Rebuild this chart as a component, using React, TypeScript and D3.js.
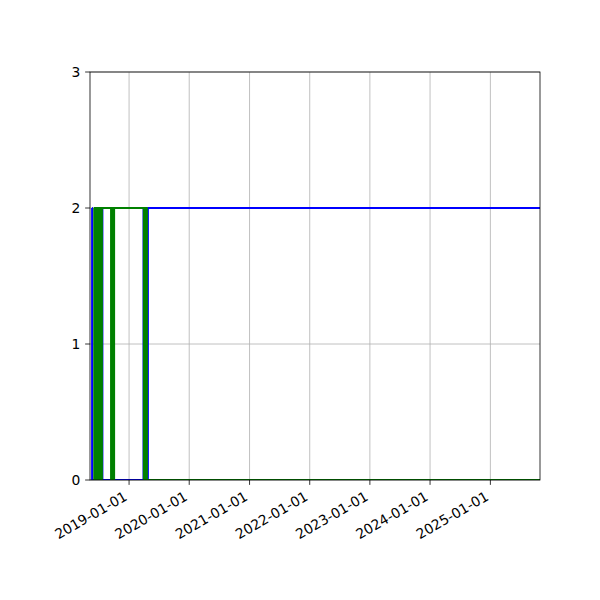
import React from "react";
import * as d3 from "d3";

// Axis tick labels
const yTicks = [0, 1, 2, 3];
const xTickLabels = [
  "2019-01-01",
  "2020-01-01",
  "2021-01-01",
  "2022-01-01",
  "2023-01-01",
  "2024-01-01",
  "2025-01-01",
];
const xDomain = ["2018-05-09", "2025-10-29"];

// Blue series (state values over time, step-post)
const blueDates = [
  "2018-05-21", "2018-05-22", "2018-06-10", "2018-06-11", "2018-07-22", "2018-07-23",
  "2018-09-26", "2018-09-27", "2019-03-30", "2019-03-31", "2019-04-25", "2025-10-29",
];
const blueValues = [2, 0, 2, 0, 2, 0, 2, 0, 2, 0, 2, 2];

// Green series (state values over time, step-post)
const greenDates = [
  "2018-06-01", "2018-06-04", "2018-06-07", "2018-06-13", "2018-06-16", "2018-06-19",
  "2018-06-22", "2018-06-25", "2018-06-28", "2018-07-01", "2018-07-04", "2018-07-07",
  "2018-07-10", "2018-07-13", "2018-07-16", "2018-07-19", "2018-07-20",
  "2018-09-14", "2018-09-17", "2018-09-20", "2018-09-23", "2018-09-29", "2018-10-02",
  "2019-04-01", "2019-04-04", "2019-04-07", "2019-04-10", "2019-04-13", "2019-04-16",
  "2019-04-19", "2025-10-29",
];
const greenValues = [
  2, 0, 2, 0, 2, 0,
  2, 0, 2, 0, 2, 0,
  2, 0, 2, 0, 2,
  0, 2, 0, 2, 0, 2,
  0, 2, 0, 2, 0, 2,
  0, 0,
];

const W = 600;
const H = 600;
const L = 90;
const R = 540;
const T = 72;
const B = 480;
const FONT = "DejaVu Sans, sans-serif";
const FS = 13.89;

export default function App() {
  const parse = (s: string) => new Date(s + "T00:00:00Z");
  const x = d3.scaleUtc().domain(xDomain.map(parse)).range([L, R]);
  const y = d3.scaleLinear().domain([0, 3]).range([B, T]);

  const line = d3
    .line<[Date, number]>()
    .x((d) => x(d[0]))
    .y((d) => y(d[1]))
    .curve(d3.curveStepAfter);

  const blue = line(blueDates.map((d, i) => [parse(d), blueValues[i]])) || "";
  const green = line(greenDates.map((d, i) => [parse(d), greenValues[i]])) || "";

  const xt = xTickLabels.map((s) => ({ s, px: x(parse(s)) }));
  const tick = 4.86;

  return (
    <svg
      width={W}
      height={H}
      style={{ position: "absolute", left: 0, top: 0, background: "#fff" }}
    >
      <defs>
        <clipPath id="plot">
          <rect x={L} y={T} width={R - L} height={B - T} />
        </clipPath>
      </defs>
      <rect x={0} y={0} width={W} height={H} fill="#fff" />
      {/* grid */}
      <g stroke="#b0b0b0" strokeWidth={0.8}>
        {xt.map((t) => (
          <line key={t.s} x1={t.px} x2={t.px} y1={T} y2={B} />
        ))}
        {yTicks.map((v) => (
          <line key={v} x1={L} x2={R} y1={y(v)} y2={y(v)} />
        ))}
      </g>
      {/* series */}
      <g clipPath="url(#plot)" fill="none" strokeWidth={2.08} strokeLinejoin="round">
        <path d={blue} stroke="#0000ff" />
        <path d={green} stroke="#008000" />
      </g>
      {/* spines */}
      <rect x={L} y={T} width={R - L} height={B - T} fill="none" stroke="#000" strokeWidth={0.8} />
      {/* y ticks */}
      <g>
        {yTicks.map((v) => (
          <g key={v}>
            <line x1={L - tick} x2={L} y1={y(v)} y2={y(v)} stroke="#000" strokeWidth={0.8} />
            <text
              x={L - tick - 4.86}
              y={y(v)}
              textAnchor="end"
              dominantBaseline="central"
              fontFamily={FONT}
              fontSize={FS}
              fill="#000"
            >
              {v}
            </text>
          </g>
        ))}
      </g>
      {/* x ticks */}
      <g>
        {xt.map((t) => (
          <g key={t.s}>
            <line x1={t.px} x2={t.px} y1={B} y2={B + tick} stroke="#000" strokeWidth={0.8} />
            <text
              transform={`translate(${t.px - 0.8},${B + 2 * tick + 9.5}) rotate(-30)`}
              textAnchor="end"
              fontFamily={FONT}
              fontSize={FS}
              fill="#000"
            >
              {t.s}
            </text>
          </g>
        ))}
      </g>
    </svg>
  );
}
